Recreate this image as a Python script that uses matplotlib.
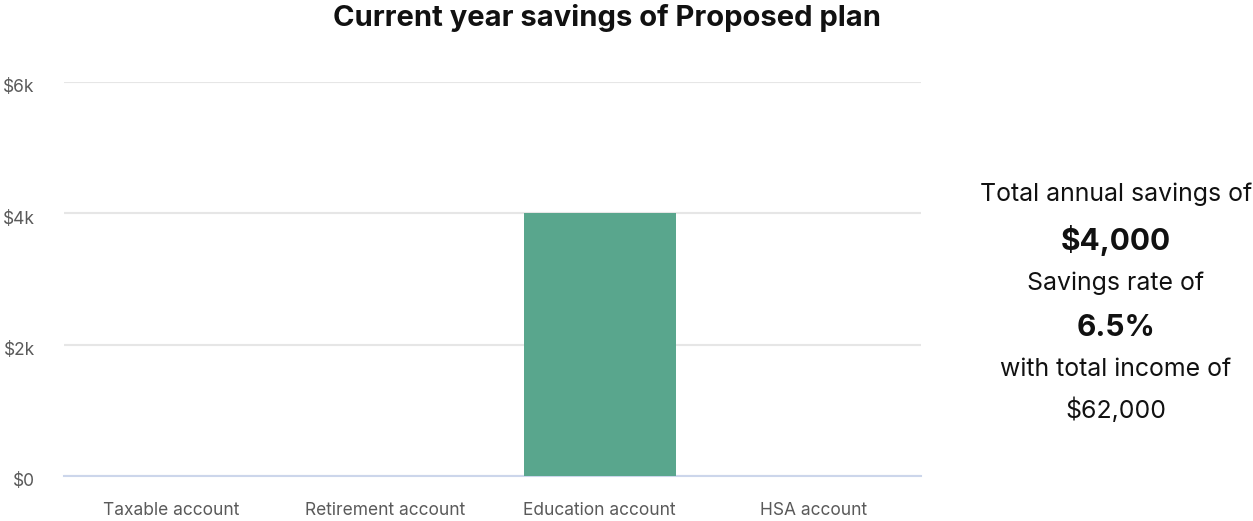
import matplotlib.pyplot as plt
import matplotlib.transforms as mtransforms
from matplotlib.ticker import FuncFormatter

plt.rcParams['font.family'] = ['Inter', 'DejaVu Sans']

accounts = ['Taxable account', 'Retirement account', 'Education account', 'HSA account']
savings = [0, 0, 4000, 0]
yticks = [0, 2000, 4000, 6000]

total_savings = 4000
savings_rate = 6.5
total_income = 62000

fig = plt.figure(figsize=(12.53, 5.21), dpi=100)
ax = fig.add_axes([64 / 1253, 45 / 521, 857 / 1253, 394 / 521])

ax.bar(range(len(accounts)), savings, width=0.71, color='#59a68d', zorder=3)

ax.set_xlim(-0.5, len(accounts) - 0.5)
ax.set_ylim(0, 6000)
ax.set_yticks(yticks)
ax.yaxis.set_major_formatter(FuncFormatter(lambda v, p: '$0' if v == 0 else f'${v / 1000:.0f}k'))
ax.set_xticks(range(len(accounts)))
ax.set_xticklabels(accounts)
ax.tick_params(axis='both', length=0, colors='#5a5a5a', labelsize=12.5)
ax.tick_params(axis='x', pad=18.5)
ax.tick_params(axis='y', pad=21)

# y labels sit a little below their grid lines
shift = mtransforms.ScaledTranslation(0, -4 / 100, fig.dpi_scale_trans)
for lab in ax.get_yticklabels():
    lab.set_transform(lab.get_transform() + shift)

ax.grid(axis='y', color='#e6e6e6', linewidth=1.5, zorder=0)
for side in ['top', 'right', 'left']:
    ax.spines[side].set_visible(False)
ax.spines['bottom'].set_color('#ccd6eb')
ax.spines['bottom'].set_linewidth(1.5)

fig.text(607 / 1253, 1 - 18 / 521, 'Current year savings of Proposed plan',
         ha='center', va='center', fontsize=21, fontweight='bold', color='#111111')

cx = 1116 / 1253
summary = [
    ('Total annual savings of', 194, 'normal'),
    (f'${total_savings:,.0f}', 240, 'bold'),
    ('Savings rate of', 283, 'normal'),
    (f'{savings_rate}%', 328, 'bold'),
    ('with total income of', 370, 'normal'),
    (f'${total_income:,.0f}', 410, 'normal'),
]
for text, y, weight in summary:
    fig.text(cx, 1 - y / 521, text, ha='center', va='center',
             fontsize=21.5 if weight == 'bold' else 17.9, fontweight=weight, color='#111111')

fig.savefig('out.png', dpi=100)
